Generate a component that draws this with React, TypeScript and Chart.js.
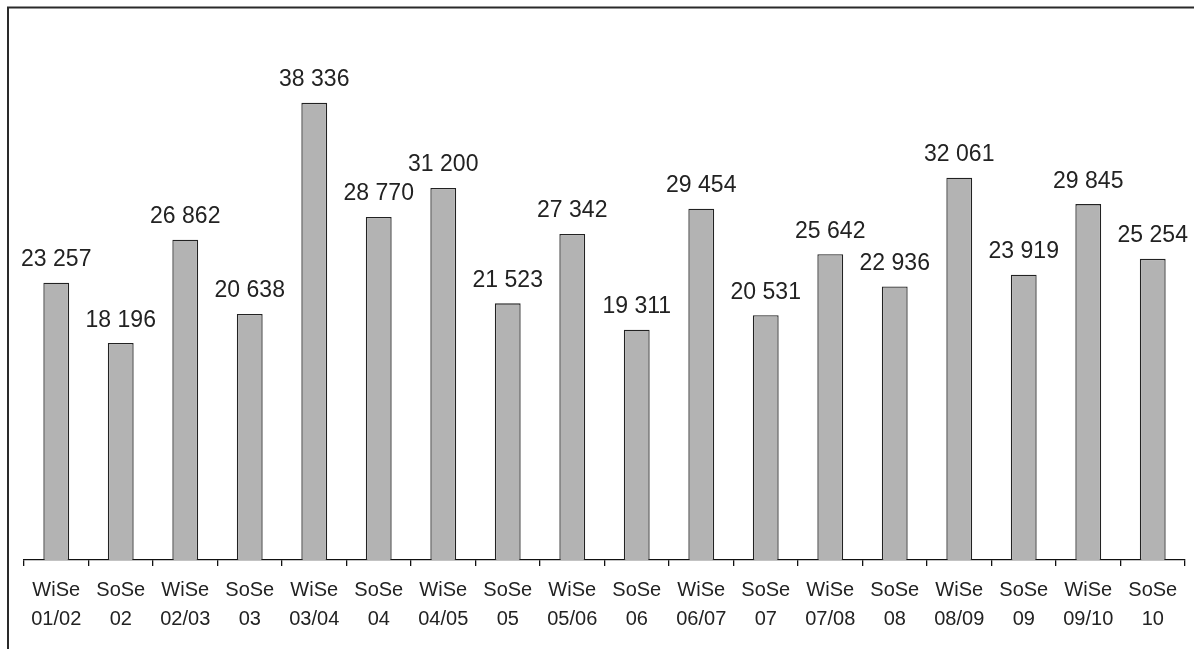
import React, { useEffect, useRef } from "react";
import { Chart, registerables } from "chart.js";

Chart.register(...registerables);

const semesters: string[][] = [
  ["WiSe", "01/02"], ["SoSe", "02"], ["WiSe", "02/03"], ["SoSe", "03"],
  ["WiSe", "03/04"], ["SoSe", "04"], ["WiSe", "04/05"], ["SoSe", "05"],
  ["WiSe", "05/06"], ["SoSe", "06"], ["WiSe", "06/07"], ["SoSe", "07"],
  ["WiSe", "07/08"], ["SoSe", "08"], ["WiSe", "08/09"], ["SoSe", "09"],
  ["WiSe", "09/10"], ["SoSe", "10"],
];

const students: number[] = [
  23257, 18196, 26862, 20638, 38336, 28770, 31200, 21523, 27342,
  19311, 29454, 20531, 25642, 22936, 32061, 23919, 29845, 25254,
];

const yMax = 45000;

const FONT = '"Liberation Sans", Arial, Helvetica, sans-serif';

// thousands separated by a space, e.g. 23 257
const fmt = (v: number) => String(v).replace(/\B(?=(\d{3})+(?!\d))/g, " ");

const valueLabels = {
  id: "valueLabels",
  afterDatasetsDraw(chart: any) {
    const ctx = chart.ctx;
    const meta = chart.getDatasetMeta(0);
    ctx.save();
    ctx.font = `23px ${FONT}`;
    ctx.fillStyle = "#222";
    ctx.textAlign = "center";
    ctx.textBaseline = "alphabetic";
    meta.data.forEach((bar: any, i: number) => {
      ctx.fillText(fmt(students[i]), bar.x, bar.y - 16.5);
    });
    ctx.restore();
  },
};

const frame = {
  id: "frame",
  afterDraw(chart: any) {
    const ctx = chart.ctx;
    ctx.save();
    ctx.strokeStyle = "#2a2a2a";
    ctx.lineWidth = 2;
    ctx.beginPath();
    ctx.moveTo(8, chart.height);
    ctx.lineTo(8, 7.5);
    ctx.lineTo(chart.width, 7.5);
    ctx.stroke();
    ctx.restore();
  },
};

export default function App() {
  const ref = useRef<HTMLCanvasElement>(null);

  useEffect(() => {
    if (!ref.current) return;
    const chart = new Chart(ref.current, {
      type: "bar",
      data: {
        labels: semesters,
        datasets: [
          {
            data: students,
            backgroundColor: "#b3b3b3",
            borderColor: "#222",
            borderWidth: 1.3,
            barPercentage: 0.4,
            categoryPercentage: 1,
          },
        ],
      },
      options: {
        animation: false,
        responsive: false,
        layout: { padding: { left: 24, right: 9, top: 23.4, bottom: 0 } },
        plugins: { legend: { display: false }, tooltip: { enabled: false } },
        scales: {
          y: { display: false, min: 0, max: yMax },
          x: {
            border: { display: true, color: "#111", width: 1.3 },
            grid: {
              display: true,
              drawOnChartArea: false,
              drawTicks: true,
              tickLength: 6,
              color: "#111",
              lineWidth: 1.3,
            },
            ticks: {
              color: "#222",
              padding: 9.5,
              maxRotation: 0,
              autoSkip: false,
              font: { family: FONT, size: 20, lineHeight: "29px" },
            },
            afterFit(scale: any) {
              scale.height = 89;
            },
          },
        },
      },
      plugins: [valueLabels, frame],
    });
    return () => chart.destroy();
  }, []);

  return (
    <div style={{ position: "absolute", left: 0, top: 0, width: 1194, height: 649, background: "#fff" }}>
      <canvas ref={ref} width={1194} height={649} />
    </div>
  );
}
